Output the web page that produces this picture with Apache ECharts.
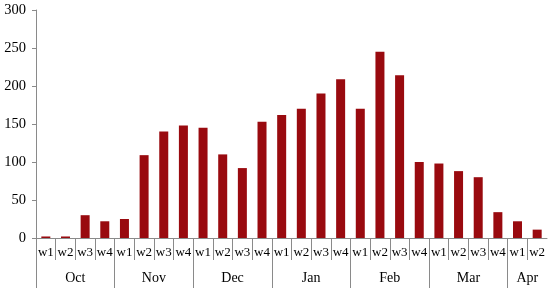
<!DOCTYPE html>
<html>
<head>
<meta charset="utf-8">
<script src="https://cdn.jsdelivr.net/npm/echarts@6/dist/echarts.min.js"></script>
<style>html,body{margin:0;padding:0;background:#fff}#c{width:550px;height:288px}</style>
</head>
<body>
<div id="c"></div>
<script>
var months = ['Oct', 'Nov', 'Dec', 'Jan', 'Feb', 'Mar', 'Apr'];
var weeksPerMonth = [4, 4, 4, 4, 4, 4, 2];
var weekLabels = ['w1','w2','w3','w4','w1','w2','w3','w4','w1','w2','w3','w4','w1','w2','w3','w4','w1','w2','w3','w4','w1','w2','w3','w4','w1','w2'];
var values = [2, 2, 30, 22, 25, 109, 140, 148, 145, 110, 92, 153, 162, 170, 190, 209, 170, 245, 214, 100, 98, 88, 80, 34, 22, 11];
var yTicks = { min: 0, max: 300, interval: 50 };

var FONT = "'Liberation Serif', 'Times New Roman', serif";
var AXIS = '#8a8a8a';
var n = weekLabels.length;

// half-step points 0..n (2n+1 points) for boundary ticks and month labels
var halfPts = [];
for (var i = 0; i <= 2 * n; i++) halfPts.push('');
var monthBoundary = {};
var monthCenter = {};
var acc = 0;
months.forEach(function (m, k) {
  monthBoundary[acc * 2] = true;
  monthCenter[acc * 2 + weeksPerMonth[k]] = m;
  acc += weeksPerMonth[k];
});
var monthPts = halfPts.map(function (v, i) { return monthCenter[i] || ''; });

var chart = echarts.init(document.getElementById('c'), null, { renderer: 'canvas' });
chart.setOption({
  animation: false,
  grid: { left: 36, right: 3, top: 10, bottom: 50, containLabel: false },
  xAxis: [
    {
      type: 'category', data: weekLabels, position: 'bottom', boundaryGap: true,
      axisLine: { show: false }, axisTick: { show: false },
      axisLabel: { interval: 0, margin: 8, fontFamily: FONT, fontSize: 13, color: '#000' }
    },
    {
      type: 'category', data: halfPts, position: 'bottom', boundaryGap: false,
      axisLine: { show: true, lineStyle: { color: AXIS, width: 1 } },
      axisTick: { show: true, length: 22, lineStyle: { color: AXIS }, interval: function (i) { return i % 2 === 0 && i < 2 * n; } },
      axisLabel: { show: false }
    },
    {
      type: 'category', data: monthPts, position: 'bottom', boundaryGap: false,
      axisLine: { show: false },
      axisTick: { show: true, length: 50, lineStyle: { color: AXIS }, interval: function (i) { return !!monthBoundary[i]; } },
      axisLabel: { interval: function (i) { return !!monthCenter[i]; }, margin: 33, fontFamily: FONT, fontSize: 14, color: '#000' }
    }
  ],
  yAxis: {
    type: 'value', min: yTicks.min, max: yTicks.max, interval: yTicks.interval,
    splitLine: { show: false },
    axisLine: { show: true, lineStyle: { color: AXIS } },
    axisTick: { show: true, length: 4, lineStyle: { color: AXIS } },
    axisLabel: { margin: 10, fontFamily: FONT, fontSize: 14.5, color: '#000' }
  },
  series: [{
    type: 'bar', xAxisIndex: 0, data: values, barWidth: 9,
    itemStyle: { color: '#990a0f' }
  }]
});
</script>
</body>
</html>
